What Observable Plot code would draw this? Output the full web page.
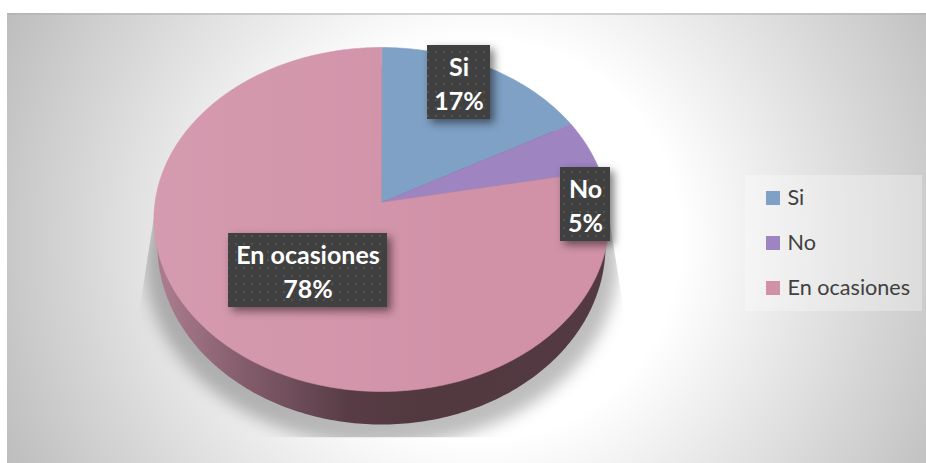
<!DOCTYPE html>
<html><head><meta charset="utf-8">
<script src="https://cdn.jsdelivr.net/npm/d3@7"></script>
<script src="https://cdn.jsdelivr.net/npm/@observablehq/plot@0.6"></script>
<style>html,body{margin:0;padding:0;background:#fff;overflow:hidden}svg{display:block}</style>
</head><body><div id="chart"></div>
<script>
// data
const categories = ["Si", "No", "En ocasiones"];
const percentages = [17, 5, 78];
const colors = ["#7fa1c5", "#9e84c0", "#d192a8"];

// layout (pixel space used as the plot's scale domain)
const W = 926, H = 463;
const cx = 381, cy = 219, rx = 226.4, ry = 172, apex = 17, k = 0.0988;
const labelBoxes = [[427, 490, 45, 119], [560, 610, 167, 241], [228, 387, 233, 307]];

// perspective projection of the pie's unit circle
function project(a, r = 1) {
  const u = r * Math.sin(a), v = r * Math.cos(a), w = 1 + k * v;
  return {x: cx + rx * u / w, y: cy - (ry * v + apex) / w};
}
const arcs = d3.pie().sort(null)(percentages);
const step = Math.PI / 360;
function arcPoints(a0, a1) {
  const n = Math.max(2, Math.ceil((a1 - a0) / step));
  return d3.range(n + 1).map(i => project(a0 + (a1 - a0) * i / n));
}
const slices = arcs.flatMap((d, i) =>
  [project(0, 0), ...arcPoints(d.startAngle, d.endAngle)].map(p => ({...p, name: categories[i]})));
const ellipse = (ex, ey, erx, ery) => d3.range(0, 360, 1).map(t => ({
  x: ex + erx * Math.cos(t * Math.PI / 180), y: ey + ery * Math.sin(t * Math.PI / 180)}));
const rim = ellipse(cx, 245, 224, 179);
const shadow = ellipse(cx, 262, 236, 183);
const labels = categories.map((c, i) => {
  const [x1, x2, y1, y2] = labelBoxes[i];
  return {x1, x2, y1, y2, x: (x1 + x2) / 2, y: (y1 + y2) / 2 - 0.5, text: `${c}\n${percentages[i]}%`};
});
const legend = categories.map((c, i) => ({name: c, y: 198 + 45 * i}));

const defs = () => {
  const s = d3.create("svg:defs");
  s.html(`
  <radialGradient id="bg" gradientUnits="userSpaceOnUse" cx="480" cy="240" r="525">
    <stop offset=".38" stop-color="#ffffff"/><stop offset="1" stop-color="#bdbdbd"/>
  </radialGradient>
  <linearGradient id="rimG" gradientUnits="userSpaceOnUse" x1="153" x2="608" y1="0" y2="0">
    <stop offset=".03" stop-color="#a87a8c"/><stop offset=".176" stop-color="#88606f"/>
    <stop offset=".32" stop-color="#6c4b58"/><stop offset=".43" stop-color="#573c45"/>
    <stop offset=".59" stop-color="#52383f"/><stop offset="1" stop-color="#533a42"/>
  </linearGradient>
  <linearGradient id="sheen" gradientUnits="userSpaceOnUse" x1="153" x2="460" y1="0" y2="0">
    <stop offset="0" stop-color="#fff" stop-opacity=".08"/><stop offset="1" stop-color="#fff" stop-opacity="0"/>
  </linearGradient>
  <clipPath id="shClip"><polygon points="156,200 138,315 138,437 624,437 624,315 606,200"/></clipPath>
  <pattern id="dots" patternUnits="userSpaceOnUse" width="8" height="8">
    <rect width="8" height="8" fill="#404040"/><rect x="2.75" y="2.75" width="2.5" height="2.5" rx="1.2" fill="#525252"/>
  </pattern>`);
  return s.node();
};
const clipShadow = (i, s, v, d, c, next) => {
  const g = next(i, s, v, d, c);
  g.setAttribute("clip-path", "url(#shClip)");
  return g;
};

const chart = Plot.plot({
  width: W, height: H, margin: 0,
  style: {background: "transparent"},
  x: {domain: [0, W], range: [0, W], axis: null},
  y: {domain: [0, H], range: [0, H], axis: null},
  color: {domain: categories, range: colors},
  marks: [
    defs,
    Plot.rect([{}], {x1: 7, x2: W, y1: 13, y2: H, fill: "url(#bg)"}),
    Plot.ruleY([13.5], {x1: 7, x2: W, stroke: "#aeaeae"}),
    Plot.line(shadow, {x: "x", y: "y", fill: "#000", fillOpacity: 0.26, stroke: "none", curve: "linear-closed", imageFilter: "blur(8px)", render: clipShadow}),
    Plot.line(rim, {x: "x", y: "y", fill: "url(#rimG)", stroke: "none", curve: "linear-closed"}),
    Plot.line(slices, {x: "x", y: "y", z: "name", fill: "name", stroke: "name", strokeWidth: 0.6, curve: "linear-closed"}),
    Plot.line(slices.filter(d => d.name === categories[2]), {x: "x", y: "y", fill: "url(#sheen)", stroke: "none", curve: "linear-closed"}),
    Plot.rect(labels, {x1: "x1", x2: "x2", y1: "y1", y2: "y2", fill: "url(#dots)", imageFilter: "drop-shadow(4px 4px 4px rgba(0,0,0,.5))"}),
    Plot.text(labels, {x: "x", y: "y", text: "text", fill: "#fff", fontFamily: "Lato", fontWeight: 700, fontSize: 25, lineHeight: 1.36}),
    Plot.rect([{}], {x1: 745, x2: 922, y1: 175, y2: 311, fill: "#fff", fillOpacity: 0.3}),
    Plot.rect(legend, {x1: 766, x2: 780, y1: d => d.y - 7, y2: d => d.y + 7, fill: "name"}),
    Plot.text(legend, {x: 787, y: "y", text: "name", textAnchor: "start", fill: "#404040", fontFamily: "Lato", fontSize: 21.6})
  ]
});
document.getElementById("chart").append(chart);
</script></body></html>
